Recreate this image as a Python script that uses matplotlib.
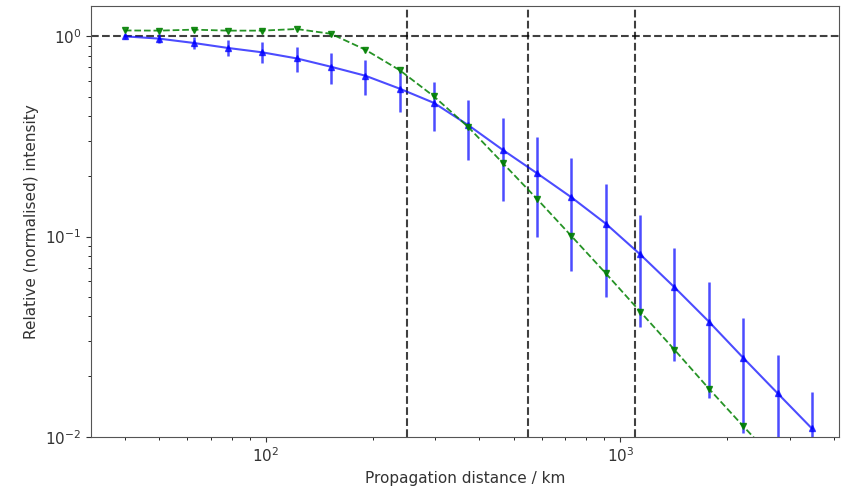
import matplotlib
matplotlib.use('Agg')
import matplotlib.pyplot as plt

distance_km = [40, 50, 62.5, 78.1, 97.7, 122.1, 152.6, 190.7, 238.4, 298.0, 372.5,
               465.7, 582.1, 727.6, 909.5, 1136.9, 1421.1, 1776.4, 2220.4, 2775.6, 3469.4]
blue_intensity = [1.0, 0.974, 0.927, 0.875, 0.832, 0.776, 0.705, 0.636, 0.548, 0.465, 0.36,
                  0.271, 0.207, 0.157, 0.116, 0.0815, 0.0558, 0.0376, 0.0248, 0.0165, 0.011]
blue_error = [0.03, 0.05, 0.06, 0.08, 0.1, 0.11, 0.125, 0.125, 0.13, 0.127, 0.12,
              0.12, 0.107, 0.09, 0.066, 0.046, 0.032, 0.022, 0.0143, 0.0092, 0.0057]
green_intensity = [1.07, 1.068, 1.08, 1.068, 1.068, 1.088, 1.03, 0.858, 0.678, 0.501, 0.352,
                   0.233, 0.154, 0.1006, 0.0655, 0.0422, 0.0272, 0.0174, 0.0113, 0.0074, 0.0048]
reference_distances_km = [250, 550, 1100]
reference_level = 1.0

fig = plt.figure(figsize=(8.42, 4.88), dpi=100)
ax = fig.add_axes([0.108, 0.105, 0.889, 0.883])

ax.errorbar(distance_km, blue_intensity, yerr=blue_error, fmt='^-', color='blue',
            alpha=0.7, ms=5, lw=1.5, elinewidth=1.8, capsize=0, zorder=3)
ax.plot(distance_km, green_intensity, 'v--', color='green', alpha=0.85, ms=5, lw=1.3, zorder=4)

for xd in reference_distances_km:
    ax.axvline(xd, color='k', ls='--', lw=1.5, alpha=0.75, zorder=2)
ax.axhline(reference_level, color='k', ls='--', lw=1.5, alpha=0.75, zorder=2)

ax.set_xscale('log')
ax.set_yscale('log')
ax.set_xlim(32.1, 4150)
ax.set_ylim(0.01, 1.42)

ax.set_xlabel('Propagation distance / km', fontsize=11, color='#333333')
ax.set_ylabel('Relative (normalised) intensity', fontsize=11, color='#333333')
ax.tick_params(labelsize=11, colors='#333333')
for s in ax.spines.values():
    s.set_color('#555555')

fig.savefig('out.png', dpi=100)
